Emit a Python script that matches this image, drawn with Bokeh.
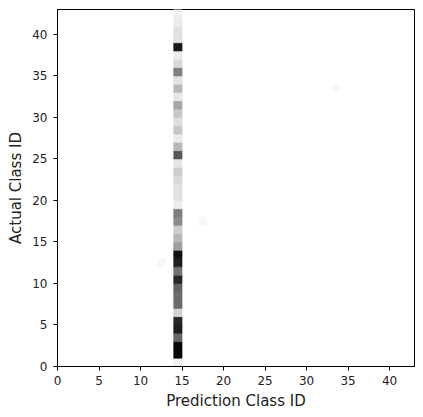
import numpy as np
from bokeh.plotting import figure
from bokeh.models import ColumnDataSource, LinearColorMapper, FixedTicker
from bokeh.transform import transform
from bokeh.embed import file_html
from bokeh.resources import INLINE

# ---- data -------------------------------------------------------------
n_classes = 43
pred_col = 14  # predicted class that absorbs almost everything
# darkness (normalised share) per actual class 0..42 in predicted column 14
col_values = [0.06, 0.97, 0.97, 0.60, 0.88, 0.85, 0.18, 0.58, 0.58, 0.62,
              0.85, 0.55, 0.88, 0.93, 0.38, 0.28, 0.20, 0.45, 0.50, 0.07,
              0.12, 0.12, 0.15, 0.20, 0.10, 0.65, 0.28, 0.08, 0.22, 0.13,
              0.22, 0.35, 0.10, 0.28, 0.12, 0.50, 0.15, 0.08, 0.90, 0.12,
              0.12, 0.08, 0.06]
# a few faint off-column cells
off_pred = [12, 17, 33]
off_actual = [12, 17, 33]
off_values = [0.03, 0.03, 0.02]
ticks = [0, 5, 10, 15, 20, 25, 30, 35, 40]

# ---- matrix -> cells ---------------------------------------------------
mat = np.zeros((n_classes, n_classes))
for a, v in enumerate(col_values):
    mat[a, pred_col] = v
for pc, ac, v in zip(off_pred, off_actual, off_values):
    mat[ac, pc] = v

xs, ys, vs = [], [], []
for a in range(n_classes):
    for pc in range(n_classes):
        if mat[a, pc] > 0:
            xs.append(pc)
            ys.append(a)
            vs.append(mat[a, pc])
src = ColumnDataSource(dict(left=[x for x in xs], right=[x + 1 for x in xs],
                            bottom=[y for y in ys], top=[y + 1 for y in ys],
                            v=vs))

palette = ["#%02x%02x%02x" % (g, g, g) for g in range(255, -1, -1)]
mapper = LinearColorMapper(palette=palette, low=0, high=1)

# ---- figure ------------------------------------------------------------
p = figure(width=416, height=412, x_range=(0, n_classes), y_range=(0, n_classes),
           output_backend="svg", toolbar_location=None,
           min_border_left=57, min_border_right=2, min_border_top=9,
           min_border_bottom=46)
p.quad(left="left", right="right", bottom="bottom", top="top", source=src,
       fill_color=transform("v", mapper), line_color=transform("v", mapper),
       line_width=0.6)

p.xgrid.visible = False
p.ygrid.visible = False
p.outline_line_color = "#000000"
p.outline_line_width = 1
p.background_fill_color = "#ffffff"

for ax in (p.xaxis[0], p.yaxis[0]):
    ax.ticker = FixedTicker(ticks=ticks)
    ax.major_tick_out = 4
    ax.major_tick_in = 0
    ax.minor_tick_line_color = None
    ax.axis_line_color = "#000000"
    ax.major_tick_line_color = "#000000"
    ax.major_label_text_font = "DejaVu Sans"
    ax.major_label_text_font_size = "12px"
    ax.major_label_text_color = "#222222"
    ax.axis_label_text_font = "DejaVu Sans"
    ax.axis_label_text_font_size = "15px"
    ax.axis_label_text_font_style = "normal"
    ax.axis_label_text_color = "#222222"

p.xaxis.major_label_standoff = 5
p.yaxis.major_label_standoff = 6
p.xaxis.axis_label = "Prediction Class ID"
p.yaxis.axis_label = "Actual Class ID"
p.xaxis.axis_label_standoff = 4
p.yaxis.axis_label_standoff = 4

open("out.html", "w").write(file_html(p, INLINE))
